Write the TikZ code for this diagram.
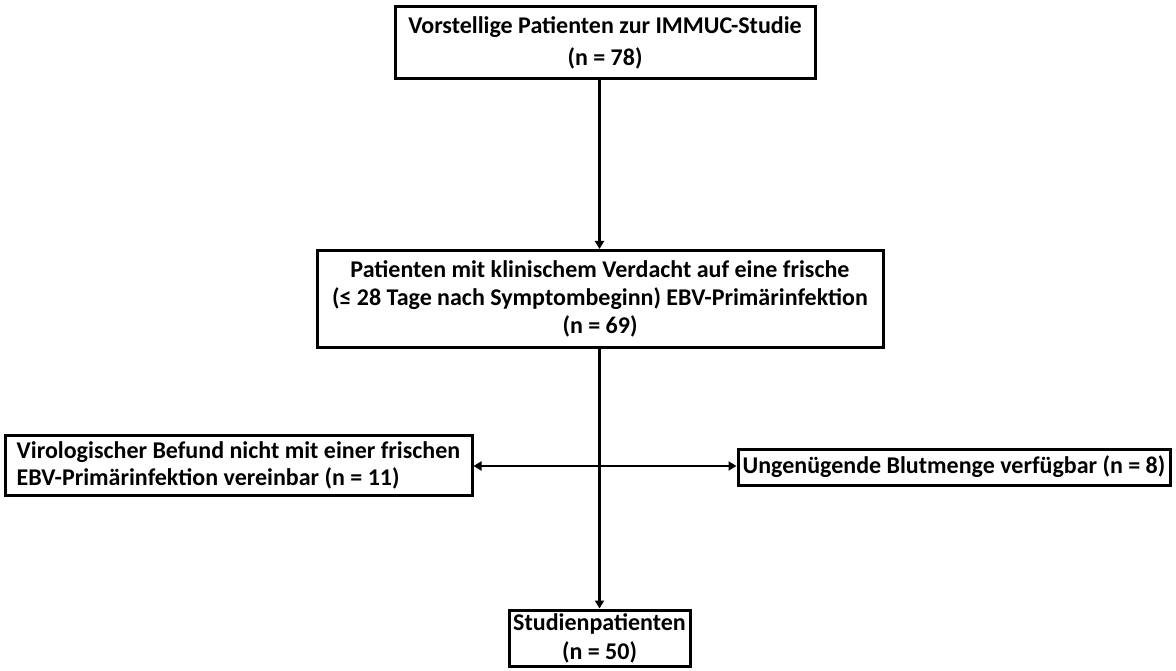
\documentclass[tikz,border=0pt]{standalone}
\usepackage{fontspec}
\setmainfont{Carlito}
\usetikzlibrary{arrows.meta}
\tikzset{
  flowbox/.style={draw, line width=3pt, inner sep=0pt, align=center, font=\bfseries\fontsize{24}{28}\selectfont},
  flowarrow/.style={line width=2.2pt, -{Triangle[width=9pt,length=8pt]}}
}
\begin{document}
\begin{tikzpicture}[x=1pt,y=-1pt]
\useasboundingbox (0,0) rectangle (1176,671);
% boxes
\node[flowbox, minimum width=420, minimum height=72, font=\bfseries\fontsize{24}{32}\selectfont] (visit) at (605,43)
  {Vorstellige Patienten zur IMMUC-Studie\\(n = 78)};
\node[flowbox, minimum width=566, minimum height=97] (suspect) at (600,299)
  {Patienten mit klinischem Verdacht auf eine frische\\(≤ 28 Tage nach Symptombeginn) EBV-Primärinfektion\\(n = 69)};
\node[flowbox, minimum width=467, minimum height=60, align=left, font=\bfseries\fontsize{24}{27}\selectfont] (viro) at (238.5,465)
  {Virologischer Befund nicht mit einer frischen\\EBV-Primärinfektion vereinbar (n = 11)};
\node[flowbox, minimum width=432, minimum height=36] (blood) at (954,467)
  {Ungenügende Blutmenge verfügbar (n = 8)};
\node[flowbox, minimum width=181, minimum height=56, font=\bfseries\fontsize{24}{29}\selectfont] (study) at (599.5,638)
  {Studienpatienten\\(n = 50)};
% connectors
\coordinate (split) at (600,466);
\draw[flowarrow] (visit.south -| study) -- (suspect.north -| study);
\draw[flowarrow] (suspect.south -| study) -- (study.north);
\draw[flowarrow] (split) -- (split -| viro.east);
\draw[flowarrow] (split) -- (split -| blood.west);
\end{tikzpicture}
\end{document}
